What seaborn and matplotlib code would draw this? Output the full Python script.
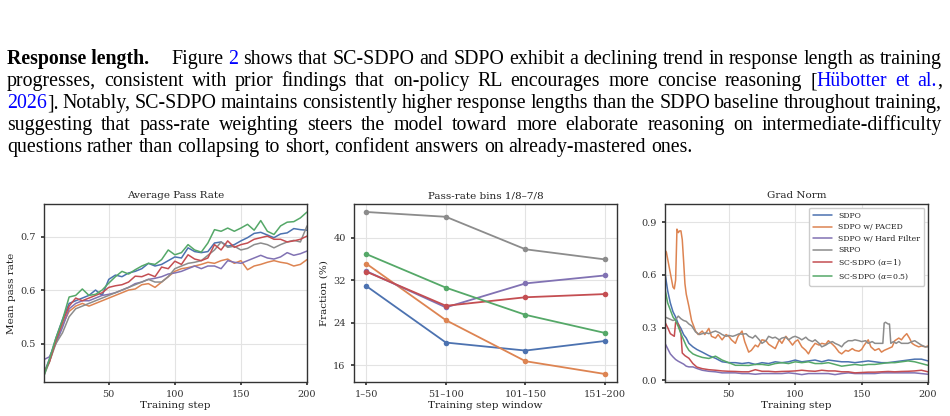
import matplotlib
matplotlib.use("Agg")
import pandas as pd
import seaborn as sns
import matplotlib.pyplot as plt

# ---- data -------------------------------------------------------------
METHODS = ["SDPO", "SDPO w/ PACED", "SDPO w/ Hard Filter", "SRPO",
           "SC-SDPO ($\\alpha$=1)", "SC-SDPO ($\\alpha$=0.5)"]
COLORS = ["#4C72B0", "#DD8452", "#8172B3", "#8C8C8C", "#C44E52", "#55A868"]

# Average pass rate (sampled every 5 steps)
PR_STEPS = [1, 5, 10, 15, 20, 25, 30, 35, 40, 45, 50, 55, 60, 65, 70, 75, 80,
            85, 90, 95, 100, 105, 110, 115, 120, 125, 130, 135, 140, 145, 150,
            155, 160, 165, 170, 175, 180, 185, 190, 195, 200]
PR_SDPO = [0.445, 0.47, 0.51, 0.545, 0.575, 0.58, 0.585, 0.59, 0.60, 0.59,
           0.62, 0.628, 0.625, 0.632, 0.635, 0.64, 0.65, 0.645, 0.648, 0.655,
           0.662, 0.66, 0.679, 0.672, 0.67, 0.672, 0.688, 0.69, 0.682, 0.685,
           0.692, 0.698, 0.706, 0.708, 0.703, 0.698, 0.705, 0.707, 0.715,
           0.713, 0.712]
PR_PACED = [0.445, 0.465, 0.505, 0.535, 0.56, 0.57, 0.575, 0.57, 0.575, 0.58,
            0.585, 0.59, 0.595, 0.60, 0.602, 0.61, 0.612, 0.605, 0.615, 0.625,
            0.635, 0.64, 0.642, 0.645, 0.648, 0.652, 0.65, 0.655, 0.658, 0.65,
            0.655, 0.638, 0.645, 0.648, 0.652, 0.655, 0.652, 0.65, 0.645,
            0.648, 0.657]
PR_HARD = [0.47, 0.475, 0.50, 0.53, 0.565, 0.575, 0.58, 0.58, 0.585, 0.59,
           0.592, 0.595, 0.60, 0.605, 0.612, 0.615, 0.62, 0.622, 0.625, 0.63,
           0.632, 0.635, 0.64, 0.645, 0.64, 0.645, 0.645, 0.64, 0.655, 0.652,
           0.65, 0.655, 0.66, 0.665, 0.66, 0.658, 0.662, 0.67, 0.665, 0.668,
           0.673]
PR_SRPO = [0.44, 0.465, 0.50, 0.52, 0.55, 0.565, 0.57, 0.575, 0.58, 0.585,
           0.59, 0.595, 0.60, 0.605, 0.61, 0.615, 0.62, 0.615, 0.615, 0.625,
           0.64, 0.645, 0.65, 0.652, 0.655, 0.665, 0.675, 0.69, 0.68, 0.682,
           0.675, 0.678, 0.685, 0.688, 0.685, 0.679, 0.685, 0.69, 0.693, 0.69,
           0.72]
PR_SC1 = [0.445, 0.465, 0.505, 0.54, 0.57, 0.585, 0.58, 0.585, 0.59, 0.595,
          0.605, 0.608, 0.61, 0.615, 0.626, 0.625, 0.63, 0.625, 0.643, 0.64,
          0.654, 0.648, 0.666, 0.658, 0.655, 0.66, 0.685, 0.675, 0.692, 0.68,
          0.685, 0.688, 0.695, 0.698, 0.701, 0.695, 0.695, 0.69, 0.692, 0.695,
          0.701]
PR_SC05 = [0.44, 0.47, 0.51, 0.544, 0.587, 0.59, 0.602, 0.59, 0.592, 0.60,
           0.613, 0.625, 0.635, 0.63, 0.638, 0.645, 0.65, 0.648, 0.657, 0.675,
           0.666, 0.67, 0.685, 0.675, 0.671, 0.688, 0.713, 0.71, 0.716, 0.71,
           0.716, 0.723, 0.712, 0.73, 0.71, 0.704, 0.72, 0.727, 0.728, 0.735,
           0.746]

# Pass-rate bins 1/8-7/8, fraction (%) per window
WINDOWS = ["1–50", "51–100", "101–150", "151–200"]
FR_SDPO = [30.9, 20.3, 18.8, 20.6]
FR_PACED = [35.1, 24.5, 16.8, 14.4]
FR_HARD = [33.7, 26.9, 31.4, 32.9]
FR_SRPO = [44.8, 43.9, 37.8, 35.9]
FR_SC1 = [33.6, 27.2, 28.8, 29.4]
FR_SC05 = [36.9, 30.6, 25.5, 22.1]

# Grad norm
GN_TAIL = [35, 40, 45, 50, 55, 60, 65, 70, 75, 80, 85, 90, 95, 100, 105, 110,
           115, 120, 125, 130, 135, 140, 145, 150, 155, 160, 165, 170, 175,
           180, 185, 190, 195, 200]
GN_STEPS_EARLY = [2, 4, 6, 8, 10, 12, 14, 16, 18, 20, 23, 26, 30]
GN_SDPO = [0.61, 0.51, 0.44, 0.39, 0.36, 0.32, 0.295, 0.26, 0.24, 0.21, 0.19,
           0.175, 0.16,
           0.14, 0.125, 0.105, 0.10, 0.10, 0.095, 0.10, 0.09, 0.10, 0.095,
           0.105, 0.10, 0.105, 0.115, 0.105, 0.11, 0.115, 0.105, 0.115, 0.11,
           0.105, 0.105, 0.10, 0.105, 0.11, 0.105, 0.10, 0.10, 0.105, 0.11,
           0.115, 0.12, 0.12, 0.11]
GN_HARD = [0.21, 0.18, 0.15, 0.133, 0.118, 0.108, 0.10, 0.092, 0.08, 0.076,
           0.076, 0.067, 0.057,
           0.051, 0.048, 0.042, 0.042, 0.042, 0.038, 0.038, 0.034, 0.038,
           0.038, 0.038, 0.038, 0.042, 0.038, 0.032, 0.038, 0.038, 0.038,
           0.038, 0.032, 0.038, 0.042, 0.038, 0.038, 0.038, 0.038, 0.042,
           0.042, 0.042, 0.042, 0.042, 0.042, 0.038, 0.034]
GN_SC05 = [0.52, 0.44, 0.40, 0.36, 0.34, 0.305, 0.265, 0.23, 0.195, 0.17,
           0.15, 0.14, 0.13,
           0.124, 0.137, 0.115, 0.10, 0.085, 0.085, 0.084, 0.09, 0.09, 0.085,
           0.095, 0.10, 0.095, 0.105, 0.10, 0.105, 0.095, 0.095, 0.10, 0.09,
           0.08, 0.085, 0.09, 0.085, 0.09, 0.09, 0.095, 0.10, 0.10, 0.105,
           0.11, 0.105, 0.095, 0.085]
GN_STEPS_SC1 = [2, 4, 6, 8, 9, 10, 12, 13, 14, 15, 17, 20, 23, 26, 30]
GN_SC1 = [0.33, 0.30, 0.265, 0.255, 0.25, 0.33, 0.32, 0.295, 0.265, 0.155,
          0.14, 0.125, 0.095, 0.075, 0.066,
          0.06, 0.057, 0.053, 0.051, 0.05, 0.048, 0.048, 0.06, 0.051, 0.051,
          0.048, 0.05, 0.051, 0.053, 0.057, 0.053, 0.051, 0.057, 0.053, 0.053,
          0.048, 0.048, 0.042, 0.044, 0.046, 0.046, 0.048, 0.05, 0.048, 0.05,
          0.051, 0.053, 0.057, 0.048]
GN_STEPS_PACED = [2, 3, 5, 7, 8, 9, 10, 11, 12, 13, 14, 15, 16, 17, 18, 20,
                  22, 24, 25, 27, 30, 32, 35, 37, 40, 42, 45, 48, 50, 52, 55,
                  57, 60, 62, 65, 67, 70, 72, 75, 78, 80, 82, 85, 88, 90, 93,
                  95, 98, 100, 102, 105, 108, 110, 112, 115, 118, 120, 123,
                  125, 128, 130, 133, 135, 138, 140, 143, 145, 148, 150, 152,
                  155, 157, 160, 163, 165, 167, 170, 173, 175, 178, 180, 182,
                  184, 186, 188, 190, 193, 195, 198, 200]
GN_PACED = [0.74, 0.73, 0.65, 0.57, 0.53, 0.52, 0.57, 0.86, 0.84, 0.85, 0.85,
            0.80, 0.68, 0.55, 0.49, 0.42, 0.34, 0.30, 0.28, 0.26, 0.28, 0.26,
            0.295, 0.25, 0.24, 0.26, 0.23, 0.26, 0.25, 0.23, 0.21, 0.25, 0.28,
            0.22, 0.16, 0.17, 0.20, 0.19, 0.23, 0.225, 0.205, 0.195, 0.18,
            0.23, 0.21, 0.25, 0.23, 0.20, 0.22, 0.23, 0.19, 0.17, 0.15, 0.18,
            0.21, 0.20, 0.21, 0.205, 0.225, 0.205, 0.19, 0.16, 0.15, 0.17,
            0.165, 0.18, 0.17, 0.165, 0.175, 0.20, 0.23, 0.19, 0.17, 0.18,
            0.16, 0.17, 0.18, 0.19, 0.225, 0.24, 0.23, 0.25, 0.265, 0.24,
            0.21, 0.20, 0.19, 0.195, 0.19, 0.195]
GN_STEPS_SRPO = [2, 5, 8, 10, 12, 14, 16, 18, 20, 22, 25, 28, 30, 33, 35, 38,
                 40, 43, 45, 48, 50, 53, 55, 58, 60, 63, 65, 68, 70, 73, 75,
                 78, 80, 83, 85, 88, 90, 93, 95, 98, 100, 103, 105, 108, 110,
                 113, 115, 118, 120, 123, 125, 128, 130, 133, 135, 137, 140,
                 143, 145, 148, 150, 153, 155, 158, 160, 163, 165, 166, 167,
                 168, 170, 171, 172, 174, 176, 178, 180, 183, 185, 188, 190,
                 193, 195, 198, 200]
GN_SRPO = [0.36, 0.35, 0.34, 0.345, 0.365, 0.35, 0.34, 0.335, 0.32, 0.31,
           0.275, 0.26, 0.265, 0.27, 0.265, 0.275, 0.28, 0.27, 0.26, 0.25,
           0.255, 0.25, 0.255, 0.265, 0.262, 0.265, 0.25, 0.24, 0.255, 0.23,
           0.21, 0.225, 0.25, 0.24, 0.245, 0.23, 0.24, 0.245, 0.23, 0.245,
           0.25, 0.24, 0.23, 0.245, 0.23, 0.22, 0.23, 0.21, 0.19, 0.20,
           0.21, 0.22, 0.21, 0.20, 0.19, 0.21, 0.225, 0.225, 0.23, 0.225,
           0.22, 0.225, 0.21, 0.22, 0.21, 0.21, 0.21, 0.21, 0.325, 0.33,
           0.32, 0.32, 0.21, 0.22, 0.21, 0.22, 0.21, 0.21, 0.21, 0.22,
           0.225, 0.21, 0.20, 0.19, 0.19]

# ---- tables ------------------------------------------------------------
pr_df = pd.concat([pd.DataFrame({"step": PR_STEPS, "value": v, "method": m})
                   for m, v in zip(METHODS, [PR_SDPO, PR_PACED, PR_HARD,
                                             PR_SRPO, PR_SC1, PR_SC05])])
fr_df = pd.concat([pd.DataFrame({"window": WINDOWS, "value": v, "method": m})
                   for m, v in zip(METHODS, [FR_SDPO, FR_PACED, FR_HARD,
                                             FR_SRPO, FR_SC1, FR_SC05])])
gn_steps = [GN_STEPS_EARLY + GN_TAIL, GN_STEPS_PACED, GN_STEPS_EARLY + GN_TAIL,
            GN_STEPS_SRPO, GN_STEPS_SC1 + GN_TAIL, GN_STEPS_EARLY + GN_TAIL]
gn_vals = [GN_SDPO, GN_PACED, GN_HARD, GN_SRPO, GN_SC1, GN_SC05]
gn_df = pd.concat([pd.DataFrame({"step": s, "value": v, "method": m})
                   for m, s, v in zip(METHODS, gn_steps, gn_vals)])
palette = dict(zip(METHODS, COLORS))

# ---- style -------------------------------------------------------------
sns.set_theme(style="whitegrid", palette="deep")
plt.rcParams.update({
    "font.family": "serif",
    "font.serif": ["DejaVu Serif"],
    "mathtext.fontset": "dejavuserif",
    "axes.edgecolor": "#333333",
    "axes.linewidth": 1.0,
    "grid.color": "#e3e3e3",
    "grid.linewidth": 0.8,
    "xtick.bottom": True,
    "ytick.left": True,
    "xtick.major.size": 2.5,
    "ytick.major.size": 2.5,
    "xtick.color": "#333333",
    "ytick.color": "#333333",
    "xtick.labelsize": 7,
    "ytick.labelsize": 7,
    "axes.labelsize": 7.5,
    "axes.titlesize": 7.5,
    "axes.labelcolor": "#222222",
    "text.color": "#222222",
})

W, H = 950, 416
fig = plt.figure(figsize=(W / 100, H / 100), dpi=100)
renderer = fig.canvas.get_renderer()

# ---- paragraph text (justified) -----------------------------------------
BLUE = "#0000ff"
K = "black"
FS = 14.3


def put(x, base, s, color=K, weight="normal"):
    return fig.text(x / W, 1 - base / H, s, color=color, fontweight=weight,
                    family="Liberation Serif", fontsize=FS,
                    va="baseline", ha="left")


def plain(s):
    return [[(w, K, "normal")] for w in s.split()]


def set_line(words, base, x0, x1, justify=True):
    items = []
    for w in words:
        parts = [put(0, base, s, c, wt) for s, c, wt in w]
        ws = [p.get_window_extent(renderer).width for p in parts]
        items.append((parts, ws))
    total = sum(sum(ws) for _, ws in items)
    gap = (x1 - x0 - total) / (len(items) - 1) if justify else FS * 1.39 * 0.25
    x = x0
    for parts, ws in items:
        px = x
        for p, w in zip(parts, ws):
            p.set_x(px / W)
            px += w
        x = px + gap
    return x


X0, X1 = 7, 942
BASES = [64, 86, 108, 130, 152]
head = put(X0, BASES[0], "Response length.", weight="bold")
head_end = X0 + head.get_window_extent(renderer).width
line1 = plain("Figure") + [[("2", BLUE, "normal")]] + plain(
    "shows that SC-SDPO and SDPO exhibit a declining trend in response "
    "length as training")
line2 = plain("progresses, consistent with prior findings that on-policy RL "
              "encourages more concise reasoning") + [
    [("[", K, "normal"), ("Hübotter", BLUE, "normal")],
    [("et", BLUE, "normal")],
    [("al.", BLUE, "normal"), (",", K, "normal")]]
line3 = [[("2026", BLUE, "normal"), ("].", K, "normal")]] + plain(
    "Notably, SC-SDPO maintains consistently higher response lengths than "
    "the SDPO baseline throughout training,")
line4 = plain("suggesting that pass-rate weighting steers the model toward "
              "more elaborate reasoning on intermediate-difficulty")
line5 = plain("questions rather than collapsing to short, confident answers "
              "on already-mastered ones.")
set_line(line1, BASES[0], head_end + 22, X1)
set_line(line2, BASES[1], X0, X1)
set_line(line3, BASES[2], X0, X1)
set_line(line4, BASES[3], X0, X1)
set_line(line5, BASES[4], X0, X1, justify=False)

# ---- panels -------------------------------------------------------------
def panel(left):
    return fig.add_axes([left / W, 1 - 382 / H, 263 / W, 178 / H])


ax1 = panel(44)
sns.lineplot(data=pr_df, x="step", y="value", hue="method", hue_order=METHODS,
             palette=palette, estimator=None, lw=1.1, legend=False, ax=ax1)
ax1.set_xlim(1, 200)
ax1.set_ylim(0.428, 0.761)
ax1.set_xticks([50, 100, 150, 200])
ax1.set_yticks([0.5, 0.6, 0.7])
ax1.set_title("Average Pass Rate", pad=4)
ax1.set_xlabel("Training step", labelpad=1)
ax1.set_ylabel("Mean pass rate", labelpad=3)

ax2 = panel(354)
sns.lineplot(data=fr_df, x="window", y="value", hue="method",
             hue_order=METHODS, palette=palette, estimator=None, sort=False,
             marker="o", markersize=4, markeredgewidth=0, lw=1.3,
             legend=False, ax=ax2)
ax2.set_xlim(-0.155, 3.15)
ax2.set_ylim(12.9, 46.3)
ax2.set_yticks([16, 24, 32, 40])
ax2.set_title("Pass-rate bins 1/8–7/8", pad=4)
ax2.set_xlabel("Training step window", labelpad=1)
ax2.set_ylabel("Fraction (%)", labelpad=3)

ax3 = panel(665)
sns.lineplot(data=gn_df, x="step", y="value", hue="method", hue_order=METHODS,
             palette=palette, estimator=None, lw=1.1, ax=ax3)
ax3.set_xlim(2, 200)
ax3.set_ylim(-0.01, 1.003)
ax3.set_xticks([50, 100, 150, 200])
ax3.set_yticks([0.0, 0.3, 0.6, 0.9])
ax3.set_title("Grad Norm", pad=4)
ax3.set_xlabel("Training step", labelpad=1)
ax3.set_ylabel("")
ax3.legend(loc="upper right", fontsize=5.6, frameon=True, framealpha=1,
           edgecolor="#cccccc", handlelength=2.4, borderaxespad=0.5,
           labelspacing=0.45, borderpad=0.5)

fig.savefig("out.png", dpi=100)
